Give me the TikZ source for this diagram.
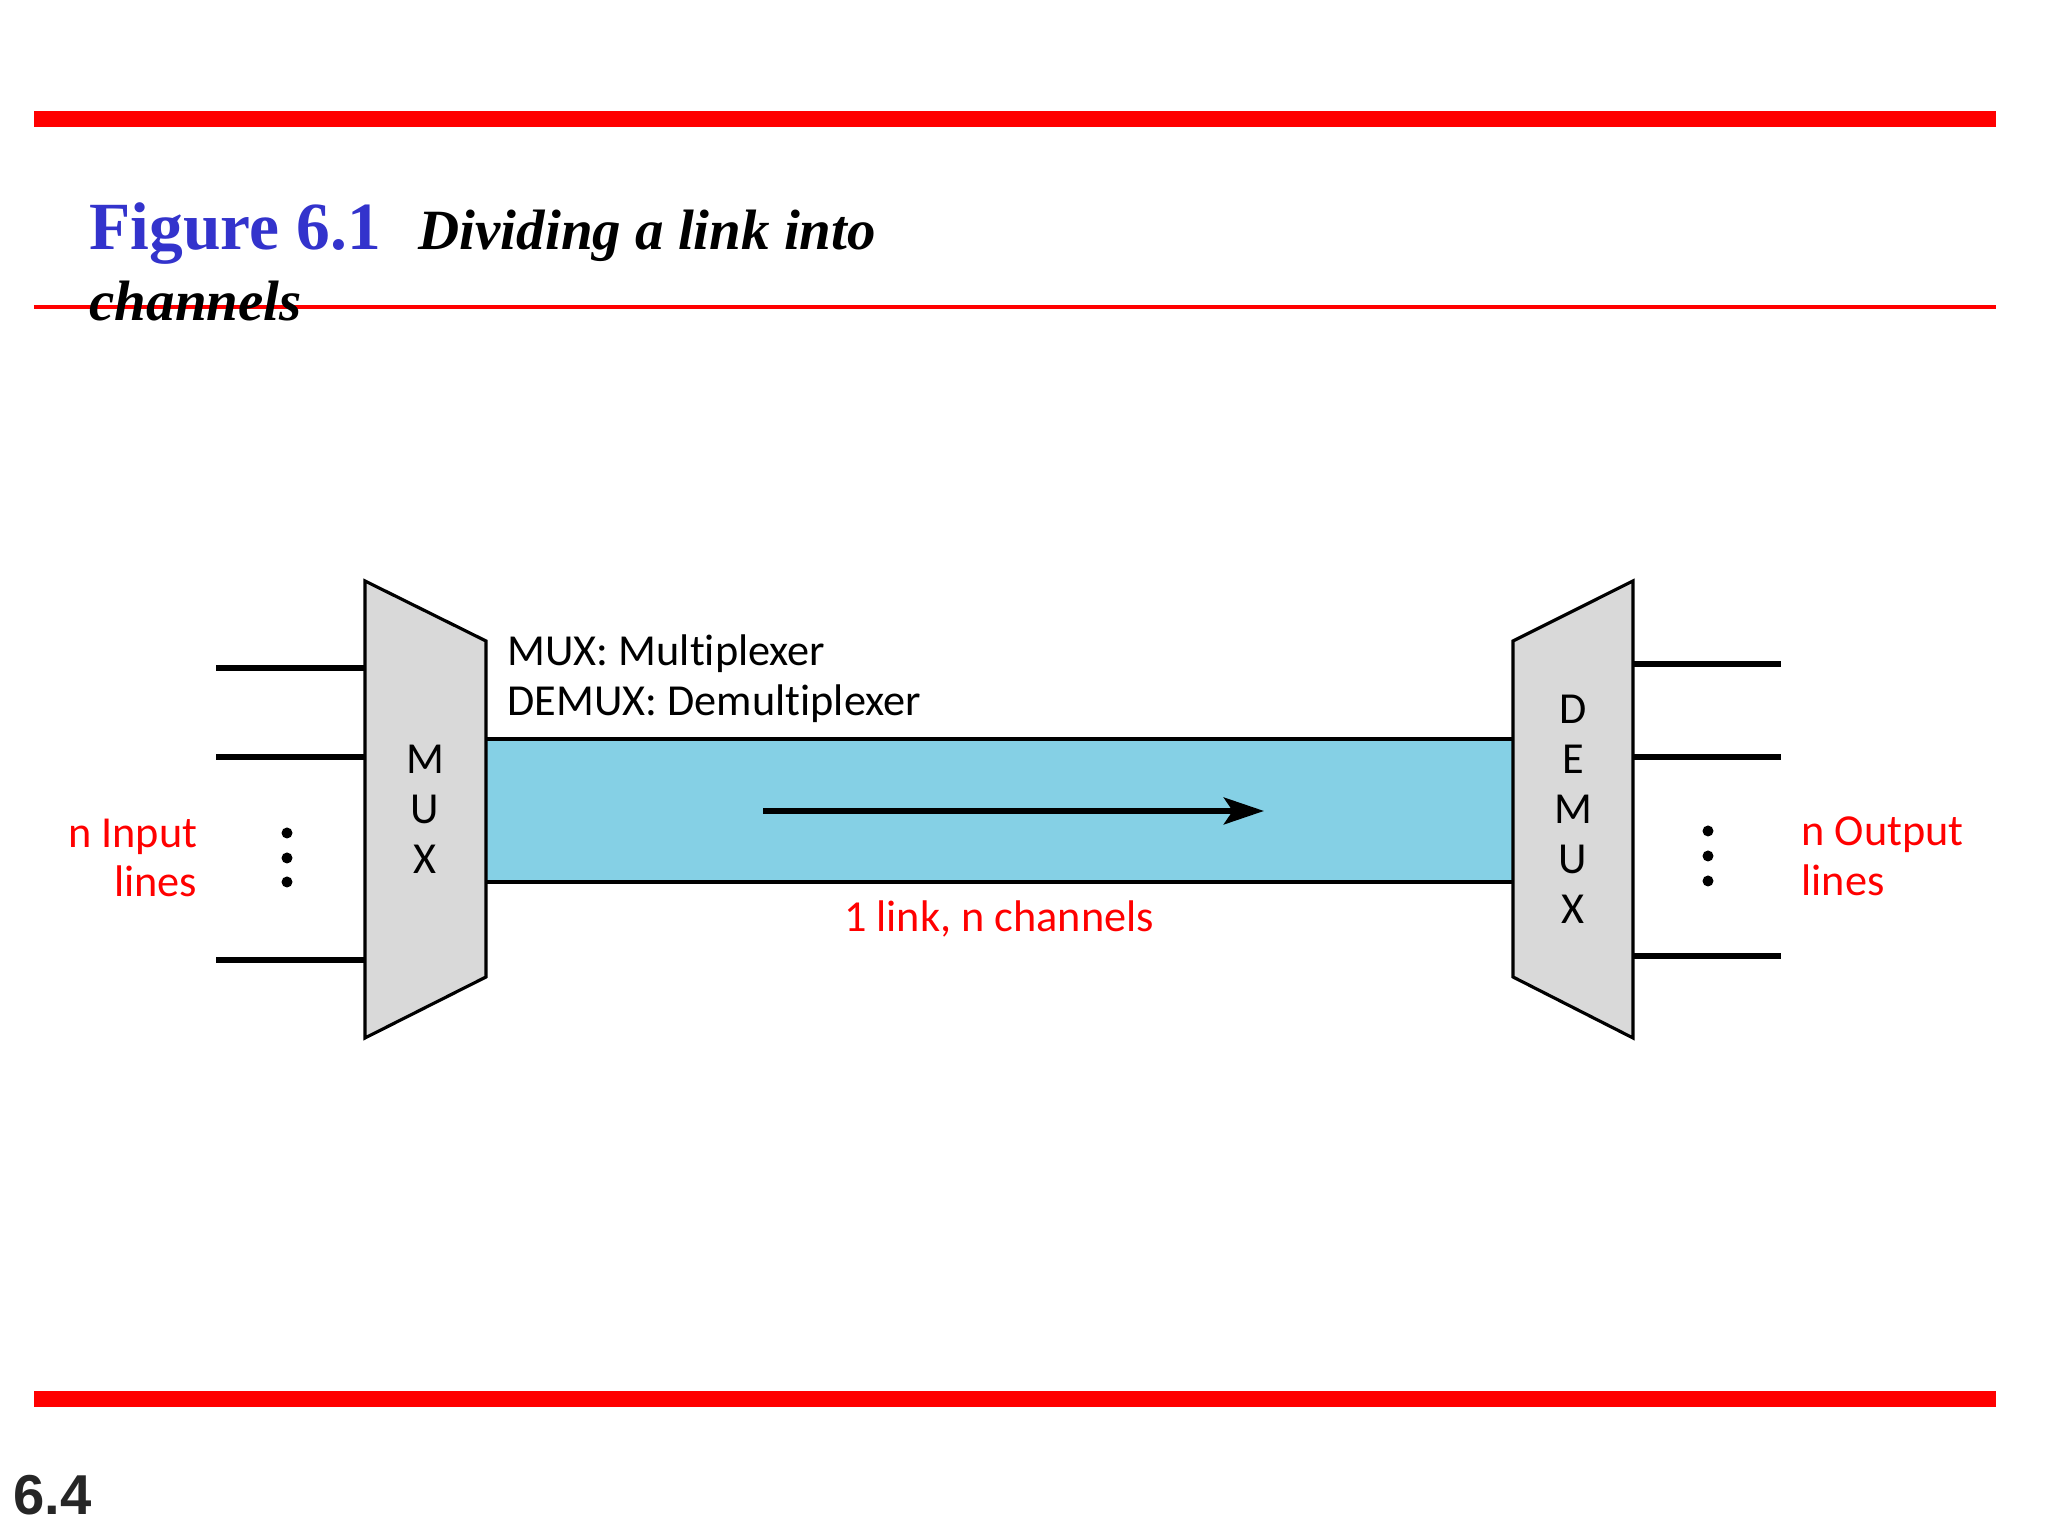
\documentclass[tikz,border=0pt]{standalone}
\usepackage{fontspec}
\setmainfont[Ligatures=NoCommon]{Carlito}
\newfontfamily\titlefont{Liberation Serif}
\newfontfamily\pagefont{Liberation Sans}
\usetikzlibrary{arrows.meta}
\definecolor{titleblue}{HTML}{3333CC}
\definecolor{linkblue}{HTML}{85D0E5}
\definecolor{boxgray}{HTML}{D9D9D9}
\tikzset{
  >={Stealth[length=11.4pt,width=7.6pt,inset=2.5pt]},
}
\tikzstyle{every node}=[inner sep=0pt,font=\fontsize{12.6}{14.2}\selectfont]
\tikzstyle{box}=[line width=.9pt,fill=boxgray]
\tikzstyle{wire}=[line width=1.6pt]
\tikzstyle{dot}=[fill=black]
\tikzstyle{redtext}=[text=red]

\begin{document}
\begin{tikzpicture}
    \useasboundingbox (0,0) rectangle (20.48,15.36);
    % slide rules
    \fill[red] (.34,14.09) rectangle (19.96,14.25);
    \fill[red] (.34,1.29) rectangle (19.96,1.45);
    \draw[red,line width=1.2pt] (.34,12.29)--(19.96,12.29);
    % title
    \node[anchor=base west,text=titleblue,font=\titlefont\bfseries\fontsize{19.2}{19.2}\selectfont] (fig) at (.89,12.86) {Figure 6.1};
    \node[anchor=base west,font=\titlefont\bfseries\itshape\fontsize{16.2}{16.2}\selectfont] (title) at (4.18,12.86) {Dividing a link into};
    \node[anchor=base west,font=\titlefont\bfseries\itshape\fontsize{16.2}{16.2}\selectfont] (title2) at (.89,12.15) {channels};
    \node[anchor=base west,text=black!85,font=\pagefont\bfseries\fontsize{16}{16}\selectfont] (page) at (.13,.21) {6.4};
    % link
    \coordinate (mt) at (4.86,7.97);
    \coordinate (mb) at (4.86,6.54);
    \coordinate (dt) at (15.13,7.97);
    \coordinate (db) at (15.13,6.54);
    \fill[linkblue] (mb) rectangle (dt);
    \draw[line width=1pt] (mt)--(dt);
    \draw[line width=1pt] (mb)--(db);
    \coordinate (tail) at (7.63,7.25);
    \coordinate (head) at (12.64,7.25);
    \draw[->,line width=1.7pt] (tail)--(head);
    % mux and demux
    \draw[box] (3.65,9.55)--(4.86,8.95)--(4.86,5.59)--(3.65,4.98)--cycle;
    \draw[box] (16.33,9.55)--(15.13,8.95)--(15.13,5.59)--(16.33,4.98)--cycle;
    \node[align=center] (mux) at (4.25,7.27) {M\\U\\X};
    \node[align=center] (demux) at (15.73,7.27) {D\\E\\M\\U\\X};
    % input and output lines
    \foreach \name/\y in {a/8.68,b/7.79,c/5.76}{
      \coordinate (in\name) at (2.16,\y);
      \coordinate (mux\name) at (3.65,\y);
      \draw[wire] (in\name)--(mux\name);
    }
    \foreach \name/\y in {a/8.72,b/7.79,c/5.80}{
      \coordinate (demux\name) at (16.33,\y);
      \coordinate (out\name) at (17.81,\y);
      \draw[wire] (demux\name)--(out\name);
    }
    \foreach \y in {7.03,6.78,6.54}
      \fill[dot] (2.87,\y) circle (.055);
    \foreach \y in {7.05,6.80,6.55}
      \fill[dot] (17.08,\y) circle (.055);
    % labels
    \node[anchor=west,align=left] (names) at (5.07,8.57) {MUX: Multiplexer\\DEMUX: Demultiplexer};
    \node[anchor=east,align=right,redtext] (inlabel) at (1.98,6.78) {n Input\\lines};
    \node[anchor=west,align=left,redtext] (outlabel) at (18.01,6.80) {n Output\\lines};
    \node[anchor=base,redtext] (linklabel) at (9.99,6.04) {1 link, n channels};
\end{tikzpicture}
\end{document}
